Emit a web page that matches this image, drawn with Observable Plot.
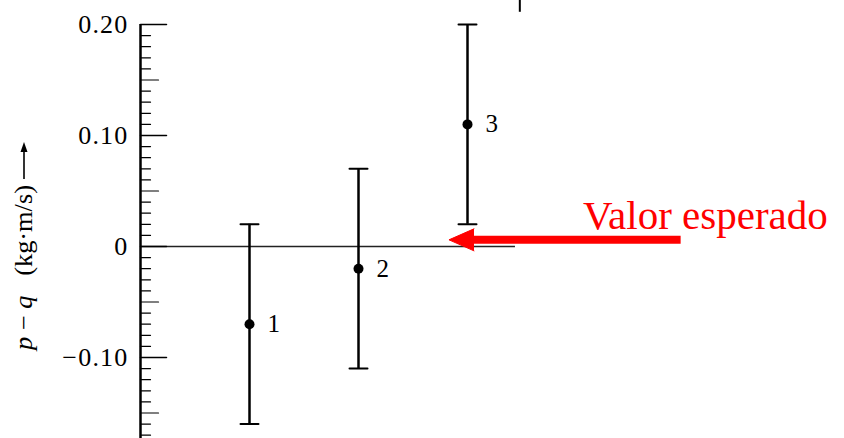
<!DOCTYPE html>
<html>
<head>
<meta charset="utf-8">
<script src="https://cdn.jsdelivr.net/npm/d3@7"></script>
<script src="https://cdn.jsdelivr.net/npm/@observablehq/plot@0.6"></script>
<style>
  body { margin: 0; background: #fff; }
  #chart { width: 844px; height: 438px; }
</style>
</head>
<body>
<div id="chart"></div>
<script>
// Measured momentum difference p − q for three trials, with their uncertainty ranges
const trials = [1, 2, 3];
const meanDiff = [-0.07, -0.02, 0.11];
const lowerBound = [-0.16, -0.11, 0.02];
const upperBound = [0.02, 0.07, 0.20];

// Y axis labels
const yTickValues = [0.2, 0.1, 0, -0.1];
const yTickLabels = ["0.20", "0.10", "0", "\u22120.10"];

// Reference line at zero and the "expected value" pointer (x in trial units)
const zeroLineSpan = [0, 3.44];
const arrowX = [4.96, 2.83];
const arrowLevel = 0.006;
const noteX = [4.06];
const noteY = [0.028];
const noteText = ["Valor esperado"];
const topMarkX = [3.48];

const data = trials.map((t, i) => ({trial: t, mean: meanDiff[i], lo: lowerBound[i], hi: upperBound[i]}));

// Minor ticks every 0.01, medium every 0.05, major every 0.10
const allTicks = d3.range(-17, 21).map(i => i / 100);
const isMult = (v, m) => Math.abs(Math.round(v / m) * m - v) < 1e-9;
const majorTicks = allTicks.filter(v => isMult(v, 0.1));
const mediumTicks = allTicks.filter(v => isMult(v, 0.05) && !isMult(v, 0.1));
const minorTicks = allTicks.filter(v => !isMult(v, 0.05));

// A straight segment for vectors (used for ticks and caps)
const segment = {draw(ctx, l) { ctx.moveTo(0, 0); ctx.lineTo(0, -l); }};

const serif = "Liberation Serif";

const plot = Plot.plot({
  width: 844,
  height: 438,
  margin: 0,
  style: {background: "#fff", color: "#000"},
  x: {type: "linear", domain: [0, 1], range: [140, 249], axis: null},
  y: {type: "linear", domain: [0, 0.1], range: [246, 135], axis: null},
  marks: [
    // zero reference line
    Plot.ruleY([0], {x1: zeroLineSpan[0], x2: zeroLineSpan[1], stroke: "#222", strokeWidth: 1.5}),
    // vertical axis line
    Plot.ruleX([0], {y1: -0.2, y2: 0.2, stroke: "#000", strokeWidth: 2.5}),
    // inward ticks
    Plot.vector(minorTicks, {x: 0, y: d => d, length: 10, rotate: 90, anchor: "start", shape: segment, strokeWidth: 1.2}),
    Plot.vector(mediumTicks, {x: 0, y: d => d, length: 18, rotate: 90, anchor: "start", shape: segment, strokeWidth: 1.2}),
    Plot.vector(majorTicks, {x: 0, y: d => d, length: 26, rotate: 90, anchor: "start", shape: segment, strokeWidth: 1.5}),
    // tick labels
    Plot.text(yTickValues, {x: 0, y: d => d, text: (d, i) => yTickLabels[i], textAnchor: "end", dx: -12, fontSize: 26, fontFamily: serif, fill: "#000", className: "ytick-labels"}),
    // small mark at the top edge
    Plot.ruleX(topMarkX, {y1: 0.211, y2: 0.24, stroke: "#000", strokeWidth: 2}),
    // error bars
    Plot.ruleX(data, {x: "trial", y1: "lo", y2: "hi", stroke: "#000", strokeWidth: 2.5}),
    Plot.vector(data, {x: "trial", y: "lo", length: 18, rotate: 90, anchor: "middle", shape: segment, strokeWidth: 2}),
    Plot.vector(data, {x: "trial", y: "hi", length: 18, rotate: 90, anchor: "middle", shape: segment, strokeWidth: 2}),
    Plot.dot(data, {x: "trial", y: "mean", r: 5, fill: "#000", stroke: null}),
    Plot.text(data, {x: "trial", y: "mean", text: d => String(d.trial), textAnchor: "start", dx: 18, fontSize: 25, fontFamily: serif, fill: "#000"}),
    // expected value pointer
    Plot.ruleY([arrowLevel], {x1: arrowX[0], x2: arrowX[1] + 0.12, stroke: "#ff0000", strokeWidth: 8}),
    Plot.vector([arrowLevel], {x: arrowX[1], y: d => d, length: 25, rotate: -90, anchor: "end", shape: "spike", r: 11, fill: "#ff0000", stroke: "#ff0000", strokeWidth: 1}),
    Plot.text(noteText, {x: noteX, y: noteY, text: d => d, textAnchor: "start", fontSize: 41, fontFamily: serif, fill: "#ff0000"})
  ]
});

const svg = d3.select(plot);
// Slightly wider digit spacing for the tick labels
svg.selectAll(".ytick-labels text").attr("letter-spacing", 1.2);

// Rotated y-axis title with italic symbols, followed by an upward arrow
const title = svg.append("text")
  .attr("transform", "translate(32,350) rotate(-90)")
  .attr("text-anchor", "start")
  .attr("font-family", serif)
  .attr("font-size", 25)
  .attr("fill", "#000")
  .attr("textLength", 165)
  .attr("lengthAdjust", "spacingAndGlyphs");
title.append("tspan").attr("font-style", "italic").text("p");
title.append("tspan").text(" \u2212 ");
title.append("tspan").attr("font-style", "italic").text("q");
title.append("tspan").text("\u2002 (kg\u00b7m/s)");
svg.append("path")
  .attr("d", "M24,179V150")
  .attr("stroke", "#000")
  .attr("stroke-width", 1.6);
svg.append("path")
  .attr("d", "M24,142L20.5,152L27.5,152Z")
  .attr("fill", "#000");

document.getElementById("chart").append(plot);
</script>
</body>
</html>
